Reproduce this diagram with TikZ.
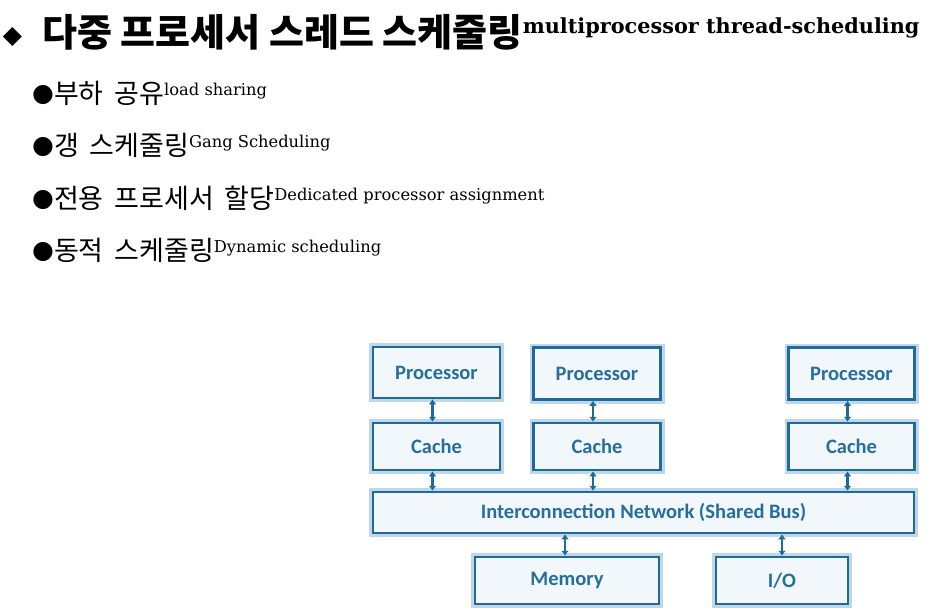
\documentclass[tikz,border=0pt]{standalone}
\usepackage{fontspec}
\setmainfont{DejaVu Serif}
\newfontfamily\krfont{Noto Sans CJK KR}
\newfontfamily\symfont{DejaVu Sans}
\newfontfamily\boxfont{Carlito}
\usetikzlibrary{arrows.meta}
\definecolor{edgeblue}{RGB}{31,106,152}
\definecolor{textblue}{RGB}{38,110,158}
\definecolor{fillblue}{RGB}{242,247,251}
\definecolor{glowblue}{RGB}{190,216,234}
\newcommand{\bul}{\raisebox{2pt}{\symfont\fontsize{25}{30}\selectfont ●}}
\newcommand{\krbody}[1]{{\krfont\fontsize{27}{30}\selectfont\spaceskip=0.4em #1}}
\newcommand{\ensup}[1]{{\fontsize{16.3}{18}\selectfont\raisebox{8pt}{#1}}}
\begin{document}
\begin{tikzpicture}[x=1pt, y=-1pt,
    unitbox/.style={draw=edgeblue, line width=2.5pt, fill=fillblue,
        preaction={draw=glowblue, line width=8pt},
        text=textblue, font=\boxfont\bfseries\fontsize{20.5}{24}\selectfont,
        inner sep=0pt},
    link/.style={draw=edgeblue, line width=2.4pt,
        {Latex[length=5pt,width=8pt]}-{Latex[length=5pt,width=8pt]}},
    line/.style={anchor=base west, inner sep=0pt}]
\useasboundingbox (0,0) rectangle (931,614);

% heading
\node[inner sep=0pt] (dia) at (12.5,37) {\symfont\fontsize{25}{25}\selectfont ◆};
\node[line] (title) at (42,46) {\krfont\bfseries\fontsize{38}{42}\selectfont 다중 프로세서 스레드 스케줄링\normalfont\bfseries\fontsize{20.8}{22}\selectfont\raisebox{13pt}{multiprocessor thread-scheduling}};

% bullet list
\node[line] (item1) at (32,103) {\bul\krbody{부하 공유}\ensup{load sharing}};
\node[line] (item2) at (32,155) {\bul\krbody{갱 스케줄링}\ensup{Gang Scheduling}};
\node[line] (item3) at (32,208) {\bul\krbody{전용 프로세서 할당}\ensup{Dedicated processor assignment}};
\node[line] (item4) at (32,260) {\bul\krbody{동적 스케줄링}\ensup{Dynamic scheduling}};

% multiprocessor organisation
\node[unitbox, minimum width=127pt, minimum height=51pt] (proc1) at (436.5,372.5) {Processor};
\node[unitbox, minimum width=127pt, minimum height=52pt] (proc2) at (597,373.5) {Processor};
\node[unitbox, minimum width=126pt, minimum height=52pt] (proc3) at (851.5,373.5) {Processor};
\node[unitbox, minimum width=127pt, minimum height=47pt] (cache1) at (436.5,446.5) {Cache};
\node[unitbox, minimum width=127pt, minimum height=47pt] (cache2) at (597,446.5) {Cache};
\node[unitbox, minimum width=126pt, minimum height=47pt] (cache3) at (851.5,446.5) {Cache};
\node[unitbox, minimum width=541pt, minimum height=41pt] (bus) at (643.5,512.5) {Interconnection Network (Shared Bus)};
\node[unitbox, minimum width=184pt, minimum height=47pt] (mem) at (567,580.5) {Memory};
\node[unitbox, minimum width=132pt, minimum height=47pt] (io) at (782,580.5) {I/O};

\foreach \i in {1,2,3} {
    \draw[link] ([xshift=-4pt]proc\i.south) -- ([xshift=-4pt]cache\i.north);
    \draw[link] ([xshift=-4pt]cache\i.south) -- ([xshift=-4pt]cache\i.south |- bus.north);
}
\draw[link] ([xshift=-2pt]mem.north |- bus.south) -- ([xshift=-2pt]mem.north);
\draw[link] (io.north |- bus.south) -- (io.north);
\end{tikzpicture}
\end{document}
